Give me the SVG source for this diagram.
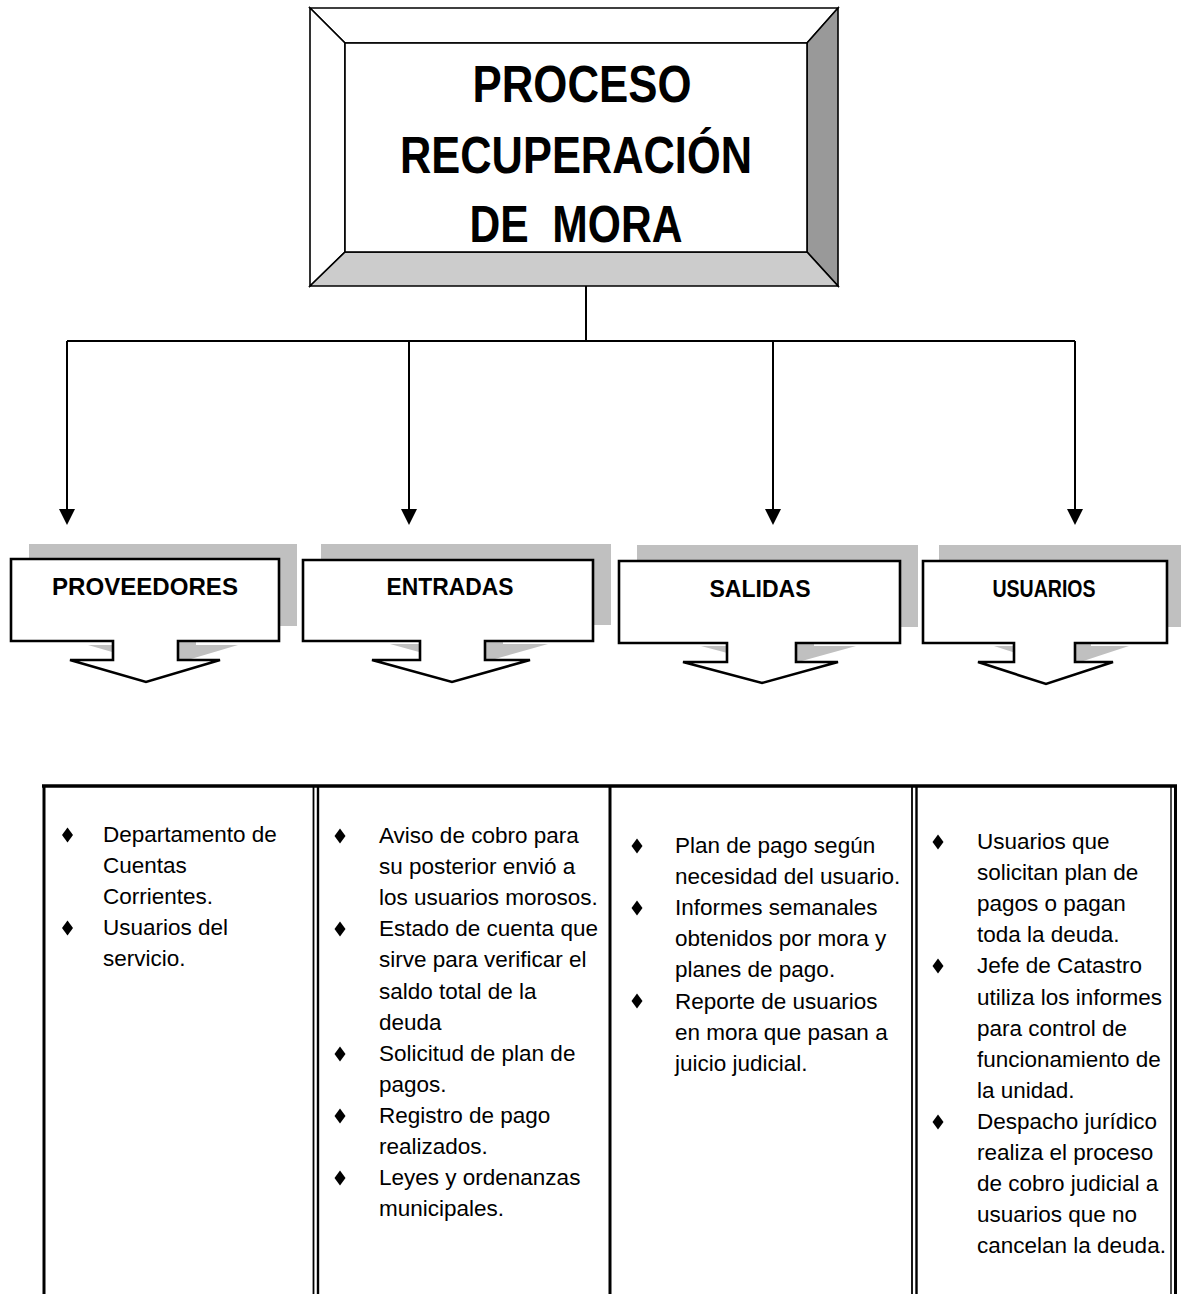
<svg xmlns="http://www.w3.org/2000/svg" width="1181" height="1294" viewBox="0 0 1181 1294">
  <style>
    .title { font-family: "Liberation Sans", Arial, sans-serif; font-weight: bold; font-size: 52px; fill: #000; text-anchor: middle; }
    .label { font-family: "Liberation Sans", Arial, sans-serif; font-weight: bold; font-size: 24px; fill: #000; text-anchor: middle; }
    .body { font-family: "Liberation Sans", Arial, sans-serif; font-size: 22.5px; fill: #000; }
    .callout { fill: #fff; stroke: #000; stroke-width: 2.6; stroke-linejoin: miter; }
    .shadow { fill: #c0c0c0; stroke: none; }
    .bevel { stroke: #000; stroke-width: 1.6; stroke-linejoin: miter; }
    .wire { fill: none; stroke: #000; stroke-width: 2; }
    .rule { stroke: #000; fill: none; }
    .bullet { fill: #000; }
  </style>
  <defs>
    <marker id="arrow" viewBox="0 0 16 16" refX="0" refY="8" markerWidth="16" markerHeight="16" markerUnits="userSpaceOnUse" orient="auto">
      <path d="M0,0 L16,8 L0,16 z" fill="#000"/>
    </marker>
    <!-- diamond bullet -->
    <path id="dia" d="M0,-7.5 L5.5,0 L0,7.5 L-5.5,0 z"/>
  </defs>

  <rect width="1181" height="1294" fill="#fff"/>

  <!-- bevelled title block -->
  <g id="process">
    <polygon class="bevel" fill="#fff" points="310,8 838,8 807,43 345,43"/>
    <polygon class="bevel" fill="#fff" points="310,8 345,43 345,252 310,286"/>
    <polygon class="bevel" fill="#999" points="838,8 838,286 807,252 807,43"/>
    <polygon class="bevel" fill="#ccc" points="310,286 345,252 807,252 838,286"/>
    <rect class="bevel" x="345" y="43" width="462" height="209" fill="#fff"/>
    <text class="title" x="582" y="102" textLength="219" lengthAdjust="spacingAndGlyphs">PROCESO</text>
    <text class="title" x="576" y="173" textLength="352" lengthAdjust="spacingAndGlyphs">RECUPERACIÓN</text>
    <text class="title" x="576" y="242" textLength="213" lengthAdjust="spacingAndGlyphs" style="white-space:pre">DE  MORA</text>
  </g>

  <!-- connectors -->
  <g id="connectors">
    <path class="wire" d="M586,286 V341"/>
    <path class="wire" d="M67,341 H1075"/>
    <path class="wire" d="M67,341 V509" marker-end="url(#arrow)"/>
    <path class="wire" d="M409,341 V509" marker-end="url(#arrow)"/>
    <path class="wire" d="M773,341 V509" marker-end="url(#arrow)"/>
    <path class="wire" d="M1075,341 V509" marker-end="url(#arrow)"/>
  </g>

  <!-- callout arrows -->
  <g id="proveedores">
    <polygon class="shadow" transform="translate(18,-15)" points="11,559 279,559 279,641 178,641 178,660 220,660 146,682 70,660 113,660 113,641 11,641"/>
    <polygon class="callout" points="11,559 279,559 279,641 178,641 178,660 220,660 146,682 70,660 113,660 113,641 11,641"/>
    <text class="label" x="145" y="595" textLength="186" lengthAdjust="spacingAndGlyphs">PROVEEDORES</text>
  </g>
  <g id="entradas">
    <polygon class="shadow" transform="translate(18,-16)" points="303,560 593,560 593,641 485,641 485,660 530,660 452,682 372,660 420,660 420,641 303,641"/>
    <polygon class="callout" points="303,560 593,560 593,641 485,641 485,660 530,660 452,682 372,660 420,660 420,641 303,641"/>
    <text class="label" x="450" y="595" textLength="127" lengthAdjust="spacingAndGlyphs">ENTRADAS</text>
  </g>
  <g id="salidas">
    <polygon class="shadow" transform="translate(18,-16)" points="619,561 900,561 900,643 796,643 796,662 838,662 762,683 683,662 727,662 727,643 619,643"/>
    <polygon class="callout" points="619,561 900,561 900,643 796,643 796,662 838,662 762,683 683,662 727,662 727,643 619,643"/>
    <text class="label" x="760" y="597" textLength="101" lengthAdjust="spacingAndGlyphs">SALIDAS</text>
  </g>
  <g id="usuarios">
    <polygon class="shadow" transform="translate(16,-16)" points="923,561 1167,561 1167,643 1075,643 1075,662 1113,662 1046,684 978,662 1014,662 1014,643 923,643"/>
    <polygon class="callout" points="923,561 1167,561 1167,643 1075,643 1075,662 1113,662 1046,684 978,662 1014,662 1014,643 923,643"/>
    <text class="label" x="1044" y="597" textLength="103" lengthAdjust="spacingAndGlyphs">USUARIOS</text>
  </g>

  <!-- table frame -->
  <g id="table">
    <line class="rule" x1="42" y1="786" x2="1177" y2="786" stroke-width="3.5"/>
    <line class="rule" x1="44" y1="785" x2="44" y2="1294" stroke-width="3"/>
    <line class="rule" x1="313.5" y1="786" x2="313.5" y2="1294" stroke-width="1.8"/>
    <line class="rule" x1="318" y1="786" x2="318" y2="1294" stroke-width="2.4"/>
    <line class="rule" x1="610" y1="786" x2="610" y2="1294" stroke-width="3"/>
    <line class="rule" x1="912" y1="786" x2="912" y2="1294" stroke-width="1.8"/>
    <line class="rule" x1="916.5" y1="786" x2="916.5" y2="1294" stroke-width="2.4"/>
    <line class="rule" x1="1171" y1="786" x2="1171" y2="1294" stroke-width="1.4"/>
    <line class="rule" x1="1175.5" y1="785" x2="1175.5" y2="1294" stroke-width="3"/>
  </g>

  <!-- column: suppliers -->
  <g id="col-proveedores">
    <use href="#dia" class="bullet" x="67.5" y="835"/>
    <use href="#dia" class="bullet" x="67.5" y="928"/>
    <text class="body" x="103" y="842">
      <tspan x="103">Departamento de</tspan>
      <tspan x="103" dy="31.1">Cuentas</tspan>
      <tspan x="103" dy="31.1">Corrientes.</tspan>
      <tspan x="103" dy="31.1">Usuarios del</tspan>
      <tspan x="103" dy="31.1">servicio.</tspan>
    </text>
  </g>

  <!-- column: inputs -->
  <g id="col-entradas">
    <use href="#dia" class="bullet" x="340" y="836"/>
    <use href="#dia" class="bullet" x="340" y="929"/>
    <use href="#dia" class="bullet" x="340" y="1054"/>
    <use href="#dia" class="bullet" x="340" y="1116"/>
    <use href="#dia" class="bullet" x="340" y="1178"/>
    <text class="body" x="379" y="843">
      <tspan x="379">Aviso de cobro para</tspan>
      <tspan x="379" dy="31.1">su posterior envió a</tspan>
      <tspan x="379" dy="31.1">los usuarios morosos.</tspan>
      <tspan x="379" dy="31.1">Estado de cuenta que</tspan>
      <tspan x="379" dy="31.1">sirve para verificar el</tspan>
      <tspan x="379" dy="31.1">saldo total de la</tspan>
      <tspan x="379" dy="31.1">deuda</tspan>
      <tspan x="379" dy="31.1">Solicitud de plan de</tspan>
      <tspan x="379" dy="31.1">pagos.</tspan>
      <tspan x="379" dy="31.1">Registro de pago</tspan>
      <tspan x="379" dy="31.1">realizados.</tspan>
      <tspan x="379" dy="31.1">Leyes y ordenanzas</tspan>
      <tspan x="379" dy="31.1">municipales.</tspan>
    </text>
  </g>

  <!-- column: outputs -->
  <g id="col-salidas">
    <use href="#dia" class="bullet" x="637" y="846"/>
    <use href="#dia" class="bullet" x="637" y="908"/>
    <use href="#dia" class="bullet" x="637" y="1001"/>
    <text class="body" x="675" y="853">
      <tspan x="675">Plan de pago según</tspan>
      <tspan x="675" dy="31.1">necesidad del usuario.</tspan>
      <tspan x="675" dy="31.1">Informes semanales</tspan>
      <tspan x="675" dy="31.1">obtenidos por mora y</tspan>
      <tspan x="675" dy="31.1">planes de pago.</tspan>
      <tspan x="675" dy="31.1">Reporte de usuarios</tspan>
      <tspan x="675" dy="31.1">en mora que pasan a</tspan>
      <tspan x="675" dy="31.1">juicio judicial.</tspan>
    </text>
  </g>

  <!-- column: users -->
  <g id="col-usuarios">
    <use href="#dia" class="bullet" x="938" y="842"/>
    <use href="#dia" class="bullet" x="938" y="966"/>
    <use href="#dia" class="bullet" x="938" y="1122"/>
    <text class="body" x="977" y="849">
      <tspan x="977">Usuarios que</tspan>
      <tspan x="977" dy="31.1">solicitan plan de</tspan>
      <tspan x="977" dy="31.1">pagos o pagan</tspan>
      <tspan x="977" dy="31.1">toda la deuda.</tspan>
      <tspan x="977" dy="31.1">Jefe de Catastro</tspan>
      <tspan x="977" dy="31.1">utiliza los informes</tspan>
      <tspan x="977" dy="31.1">para control de</tspan>
      <tspan x="977" dy="31.1">funcionamiento de</tspan>
      <tspan x="977" dy="31.1">la unidad.</tspan>
      <tspan x="977" dy="31.1">Despacho jurídico</tspan>
      <tspan x="977" dy="31.1">realiza el proceso</tspan>
      <tspan x="977" dy="31.1">de cobro judicial a</tspan>
      <tspan x="977" dy="31.1">usuarios que no</tspan>
      <tspan x="977" dy="31.1">cancelan la deuda.</tspan>
    </text>
  </g>
</svg>
